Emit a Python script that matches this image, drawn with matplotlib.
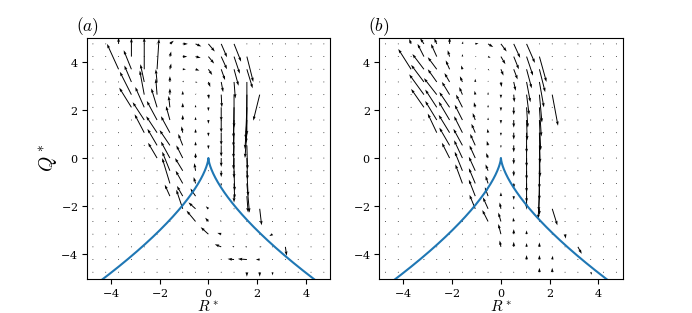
import numpy as np
import matplotlib
matplotlib.use("Agg")
import matplotlib.pyplot as plt

plt.rcParams['mathtext.fontset'] = 'cm'
plt.rcParams['font.family'] = 'serif'
plt.rcParams['font.serif'] = ['DejaVu Serif']
plt.rcParams['axes.formatter.use_mathtext'] = True

# grid of bin centres (19 x 19) over [-5, 5]
R_centres = np.linspace(-5, 5, 20)[:-1] + 10 / 38
Q_centres = R_centres[::-1]          # rows listed from top (Q high) to bottom
step = 10 / 19                       # vector components below are in grid steps

# ---- panel (a): vector components, rows top->bottom, cols left->right ----
U_a = [
    [0,0,0,0,0,0,.3,.4,.45,.5,.45,.55,0,0,0,0,0,0,0],
    [0,0,0,0,0,0,.1,.35,.4,.45,.45,.45,.5,0,0,0,0,0,0],
    [0,0,-.9,-.6,0,.15,.1,.25,.3,.3,.3,.35,.45,0,0,0,0,0,0],
    [0,0,0,-.55,-.3,-.1,0,.1,.15,.15,.15,.1,0,0,0,0,0,0,0],
    [0,0,0,-.9,-.35,-.1,0,0,.05,.05,.05,0,-.05,-.5,0,0,0,0,0],
    [0,0,0,-.95,-.7,-.45,-.1,0,0,0,0,-.05,-.1,0,0,0,0,0,0],
    [0,0,0,0,-.9,-.8,-.3,0,0,0,0,-.05,-.15,0,0,0,0,0,0],
    [0,0,0,0,-.75,-.85,-.7,-.1,0,0,0,-.05,-.15,0,0,0,0,0,0],
    [0,0,0,0,0,-.75,-.8,-.35,0,0,0,-.05,.05,0,0,0,0,0,0],
    [0,0,0,0,0,-.7,-.7,-.5,0,0,0,0,.05,0,0,0,0,0,0],
    [0,0,0,0,0,0,-.6,-.6,-.1,0,0,.05,.1,0,0,0,0,0,0],
    [0,0,0,0,0,0,-.6,-.55,-.15,0,0,.05,.2,0,0,0,0,0,0],
    [0,0,0,0,0,0,-.4,-.45,-.4,0,0,0,.1,0,0,0,0,0,0],
    [0,0,0,0,0,0,0,-.5,-.55,-.2,0,0,0,.15,0,0,0,0,0],
    [0,0,0,0,0,0,0,0,-.7,-.25,-.1,0,0,0,0,0,0,0,0],
    [0,0,0,0,0,0,0,0,0,-.6,-.3,0,0,0,-.25,0,0,0,0],
    [0,0,0,0,0,0,0,0,0,0,-.5,-.15,-.15,.15,0,.1,0,0,0],
    [0,0,0,0,0,0,0,0,0,0,0,-.5,-.7,-.3,0,0,0,0,0],
    [0,0,0,0,0,0,0,0,0,0,0,0,0,0,0,0,0,0,0],
]
V_a = [
    [0,0,.5,0,0,0,.25,0,-.2,-.6,-1.05,-1.4,0,0,0,0,0,0,0],
    [0,0,0,1.45,0,0,.4,0,-.1,-.55,-1.0,-1.35,-2.0,0,0,0,0,0,0],
    [0,0,2.0,1.5,2.5,2.4,.45,0,-.1,-.45,-.85,-1.3,-1.5,0,0,0,0,0,0],
    [0,0,0,1.3,1.4,1.0,.45,.1,-.05,-.4,-.8,-1.3,-4.2,0,0,0,0,0,0],
    [0,0,0,1.8,1.9,1.25,.5,.3,.1,-.35,-1.0,-2.6,-3.8,-2.05,0,0,0,0,0],
    [0,0,0,1.55,1.6,1.5,.9,.35,.2,-.3,-1.1,-2.4,-2.5,0,0,0,0,0,0],
    [0,0,0,0,1.4,1.5,1.1,.4,.25,-.3,-1.0,-2.1,-2.3,0,0,0,0,0,0],
    [0,0,0,0,1.45,1.3,1.3,.5,.3,-.3,-1.0,-2.0,-2.0,0,0,0,0,0,0],
    [0,0,0,0,0,1.3,1.2,.9,.3,-.3,-.9,-1.9,-1.9,0,0,0,0,0,0],
    [0,0,0,0,0,1.2,1.3,1.0,.4,0,-.7,-1.6,-1.7,0,0,0,0,0,0],
    [0,0,0,0,0,0,1.5,1.0,.6,0,-.5,-1.6,-2.0,0,0,0,0,0,0],
    [0,0,0,0,0,0,2.0,1.0,.5,0,-.2,-1.2,-2.3,0,0,0,0,0,0],
    [0,0,0,0,0,0,.9,.8,.6,0,0,-.5,-1.3,0,0,0,0,0,0],
    [0,0,0,0,0,0,0,1.5,.5,.2,0,0,0,-1.3,0,0,0,0,0],
    [0,0,0,0,0,0,0,0,.85,.3,.1,0,0,0,0,0,0,0,0],
    [0,0,0,0,0,0,0,0,0,.55,.1,0,0,0,-.15,0,0,0,0],
    [0,0,0,0,0,0,0,0,0,0,.2,.05,0,0,0,-.7,0,0,0],
    [0,0,0,0,0,0,0,0,0,0,0,.05,.05,0,0,0,0,0,0],
    [0,0,0,0,0,0,0,0,0,0,0,0,-.35,-.35,-.25,0,0,0,0],
]

# ---- panel (b) ----
U_b = [
    [0,0,-.15,-.3,-.2,0,.05,.25,.4,.45,.5,.65,0,0,0,0,0,0,0],
    [0,0,0,-.5,-.45,-.15,0,.1,.2,.35,.4,.5,.55,0,0,0,0,0,0],
    [0,0,-1.0,-.9,-.7,-.3,-.1,0,.1,.2,.3,.4,.45,0,0,0,0,0,0],
    [0,0,0,-1.0,-.7,-.4,-.2,0,0,.05,.15,.3,.35,0,0,0,0,0,0],
    [0,0,0,-1.15,-1.0,-.6,-.25,-.05,0,0,.05,.2,.2,.45,0,0,0,0,0],
    [0,0,0,-1.0,-.9,-.8,-.5,-.1,0,0,0,.1,.15,0,0,0,0,0,0],
    [0,0,0,0,-.9,-.85,-.6,-.2,0,0,0,.05,.1,0,0,0,0,0,0],
    [0,0,0,0,-.7,-.85,-.65,-.3,-.05,0,0,0,.05,0,0,0,0,0,0],
    [0,0,0,0,0,-.8,-.7,-.4,-.1,0,0,0,.05,0,0,0,0,0,0],
    [0,0,0,0,0,-.6,-.65,-.45,-.15,0,0,0,0,0,0,0,0,0,0],
    [0,0,0,0,0,0,-.6,-.5,-.2,0,0,0,0,0,0,0,0,0,0],
    [0,0,0,0,0,0,-.55,-.5,-.2,0,0,0,-.05,0,0,0,0,0,0],
    [0,0,0,0,0,0,0,-.5,-.25,0,0,0,-.1,0,0,0,0,0,0],
    [0,0,0,0,0,0,0,-.45,-.4,-.1,0,0,0,.4,0,0,0,0,0],
    [0,0,0,0,0,0,0,0,-.45,-.2,-.05,0,0,0,0,0,0,0,0],
    [0,0,0,0,0,0,0,0,0,-.2,0,0,0,0,.05,0,0,0,0],
    [0,0,0,0,0,0,0,0,0,-.1,0,0,0,0,0,.3,0,0,0],
    [0,0,0,0,0,0,0,0,0,0,0,0,0,.05,0,0,0,0,0],
    [0,0,0,0,0,0,0,0,0,0,0,0,0,0,0,0,.1,0,0],
]
V_b = [
    [0,0,.4,.45,.45,.5,.2,.05,-.25,-.6,-1.1,-1.5,0,0,0,0,0,0,0],
    [0,0,0,1.0,1.0,.5,.2,0,-.1,-.6,-1.0,-1.5,-2.0,0,0,0,0,0,0],
    [0,0,1.6,1.2,.95,.7,.3,.1,-.1,-.5,-.8,-1.5,-1.8,0,0,0,0,0,0],
    [0,0,0,1.35,1.0,.7,.45,.25,.1,-.4,-.7,-1.6,-2.0,0,0,0,0,0,0],
    [0,0,0,1.6,1.3,1.0,.6,.3,.2,-.3,-.6,-1.6,-2.2,-2.45,0,0,0,0,0],
    [0,0,0,1.45,1.4,1.2,1.0,.4,.2,-.3,-.6,-1.6,-2.3,0,0,0,0,0,0],
    [0,0,0,0,1.5,1.45,1.2,.55,.2,-.3,-.6,-1.6,-2.4,0,0,0,0,0,0],
    [0,0,0,0,1.5,1.4,1.3,.7,.3,-.25,-.55,-1.6,-2.4,0,0,0,0,0,0],
    [0,0,0,0,0,1.4,1.3,.9,.35,-.2,-.55,-1.7,-2.5,0,0,0,0,0,0],
    [0,0,0,0,0,1.2,1.4,1.0,.4,0,-.5,-1.7,-2.4,0,0,0,0,0,0],
    [0,0,0,0,0,0,1.5,1.1,.5,0,-.45,-1.7,-2.3,0,0,0,0,0,0],
    [0,0,0,0,0,0,1.5,1.2,.6,0,-.4,-1.5,-2.2,0,0,0,0,0,0],
    [0,0,0,0,0,0,0,1.3,.7,.3,-.3,-1.0,-1.8,0,0,0,0,0,0],
    [0,0,0,0,0,0,0,1.1,.9,.5,.2,0,-.5,-1.3,0,0,0,0,0],
    [0,0,0,0,0,0,0,0,.9,.7,.3,0,0,0,0,0,0,0,0],
    [0,0,0,0,0,0,0,0,0,.8,.4,.3,0,0,-.35,0,0,0,0],
    [0,0,0,0,0,0,0,0,0,.5,.4,.3,.35,0,0,-.55,0,0,0],
    [0,0,0,0,0,0,0,0,0,0,0,.35,.35,.3,0,0,0,0,0],
    [0,0,0,0,0,0,0,0,0,0,0,0,.35,.35,0,0,-.2,0,0],
]

panel_labels = [r'$(a)$', r'$(b)$']
ticks = [-4, -2, 0, 2, 4]

# Vieillefosse line: 27/4 R^2 + Q^3 = 0
R_line = np.linspace(-5, 5, 801)
Q_line = -np.cbrt(27.0 / 4.0 * R_line ** 2)

fig, axes = plt.subplots(1, 2, figsize=(6.92, 3.13), dpi=100)
RR, QQ = np.meshgrid(R_centres, Q_centres)
for ax, U, V, lab in zip(axes, [U_a, U_b], [V_a, V_b], panel_labels):
    ax.quiver(RR, QQ, np.array(U), np.array(V), angles='xy', scale_units='xy',
              scale=1 / step, width=0.004, headwidth=3, headlength=4.5,
              headaxislength=4, color='k', pivot='tail', zorder=2)
    ax.plot(R_line, Q_line, color='#1f77b4', lw=1.5, zorder=3)
    ax.set_xlim(-5, 5)
    ax.set_ylim(-5, 5)
    ax.set_xticks(ticks)
    ax.set_yticks(ticks)
    ax.tick_params(labelsize=8, length=3.5, width=0.8, pad=2.5)
    ax.set_xlabel(r'$R^*$', fontsize=11, labelpad=0)
    ax.text(-0.045, 0.998, lab, transform=ax.transAxes, fontsize=12.5,
            ha='left', va='bottom')
axes[0].set_ylabel(r'$Q^*$', fontsize=14, labelpad=1)

fig.savefig('out.png', dpi=100)
